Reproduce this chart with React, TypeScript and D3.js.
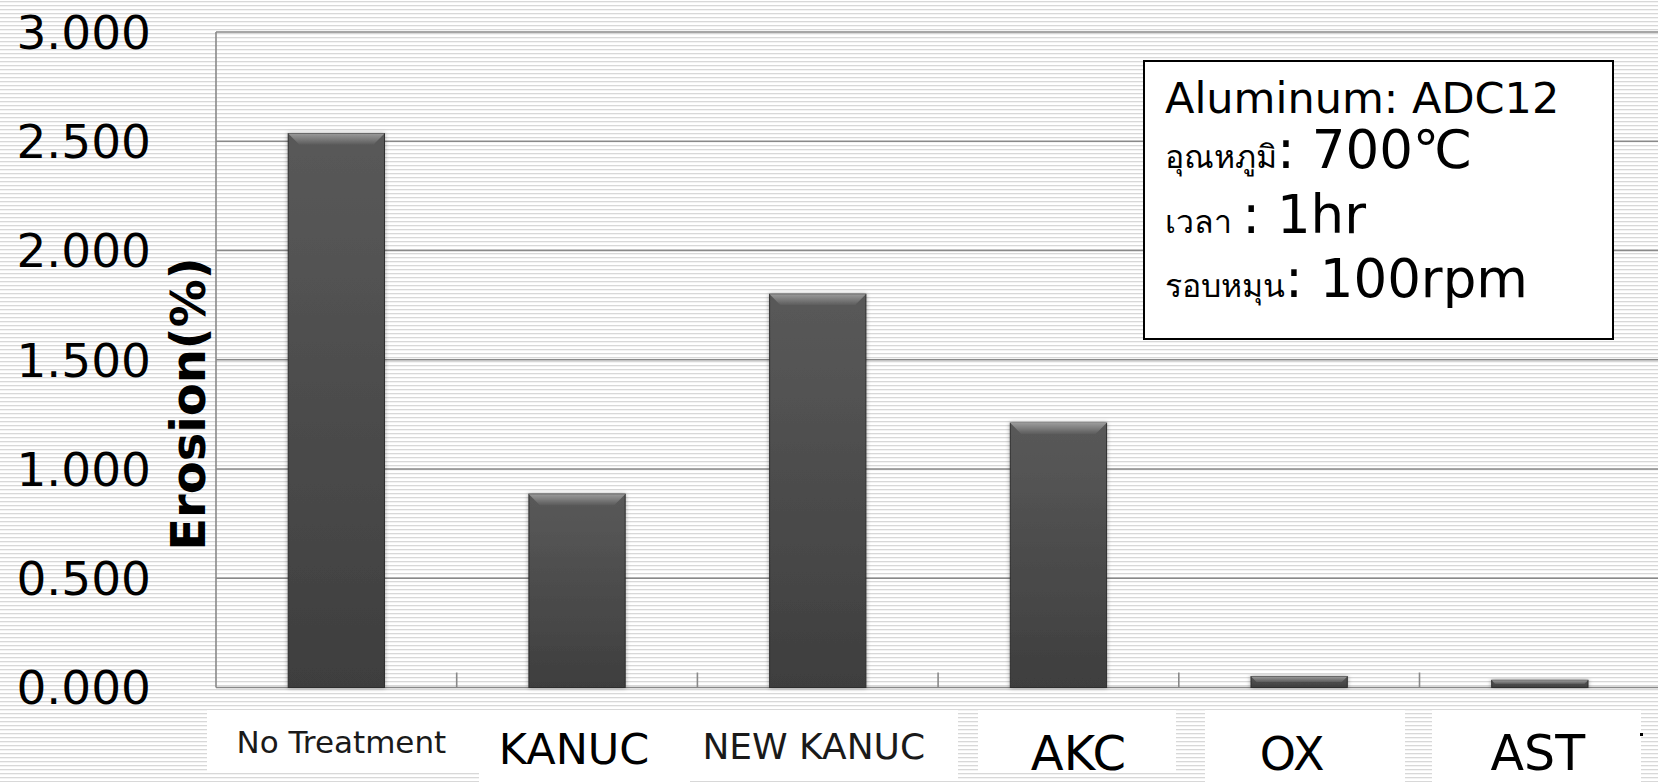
import React, { useEffect, useRef } from 'react';
import * as d3 from 'd3';

// values
const categories = ['No Treatment', 'KANUC', 'NEW KANUC', 'AKC', 'OX', 'AST'];
const erosion = [2.535, 0.885, 1.8, 1.21, 0.05, 0.033];
const yTicks = [0, 0.5, 1, 1.5, 2, 2.5, 3];
const tickLabels = ['0.000', '0.500', '1.000', '1.500', '2.000', '2.500', '3.000'];

const noteTitle = 'Aluminum: ADC12';
const noteThai = ['อุณหภูมิ', 'เวลา ', 'รอบหมุน'];
const noteValues = [': 700℃', ': 1hr', ': 100rpm'];

// label text boxes were placed by hand in the original slide
const labelStyle = [
  { size: 31, dx: 5, y: 753 },
  { size: 43, dx: -3, y: 764 },
  { size: 36, dx: -4, y: 759 },
  { size: 48, dx: 20, y: 770 },
  { size: 46, dx: -7, y: 770 },
  { size: 49, dx: -2, y: 770 },
];
const labelBoxes = [
  [207, 479, 772],
  [479, 690, 782],
  [690, 958, 780],
  [978, 1176, 773],
  [1205, 1405, 782],
  [1432, 1641, 782],
];

const W = 1658;
const H = 782;
const FONT = '"DejaVu Sans", Verdana, sans-serif';

const App: React.FC = () => {
  const ref = useRef<SVGSVGElement | null>(null);

  useEffect(() => {
    if (!ref.current) return;
    const svg = d3.select(ref.current);
    svg.selectAll('*').remove();
    svg.attr('width', W).attr('height', H);

    const margin = { top: 32, left: 216, bottom: 94.5 };
    const step = 240.7;
    const x = d3.scaleBand<string>()
      .domain(categories)
      .range([margin.left, margin.left + step * categories.length])
      .paddingInner(0.6)
      .paddingOuter(0.3);
    const y = d3.scaleLinear().domain([0, 3]).range([H - margin.bottom, margin.top]);

    const defs = svg.append('defs');
    const pat = defs.append('pattern')
      .attr('id', 'stripes')
      .attr('patternUnits', 'userSpaceOnUse')
      .attr('width', 8)
      .attr('height', 4);
    pat.append('rect').attr('width', 8).attr('height', 4).attr('fill', '#fff');
    pat.append('rect').attr('y', 1).attr('width', 8).attr('height', 1.3).attr('fill', '#d8d8d8');

    const body = defs.append('linearGradient').attr('id', 'barBody').attr('x1', 0).attr('x2', 0).attr('y1', 0).attr('y2', 1);
    body.append('stop').attr('offset', '0%').attr('stop-color', '#595959');
    body.append('stop').attr('offset', '100%').attr('stop-color', '#3e3e3e');

    const bevel = defs.append('linearGradient').attr('id', 'barBevel').attr('x1', 0).attr('x2', 0).attr('y1', 0).attr('y2', 1);
    bevel.append('stop').attr('offset', '0%').attr('stop-color', '#9a9a9a');
    bevel.append('stop').attr('offset', '100%').attr('stop-color', '#5c5c5c');

    const shadow = defs.append('filter').attr('id', 'barShadow')
      .attr('x', '-20%').attr('y', '-20%').attr('width', '140%').attr('height', '140%');
    shadow.append('feDropShadow')
      .attr('dx', 0).attr('dy', 0).attr('stdDeviation', 2)
      .attr('flood-color', '#000').attr('flood-opacity', 0.35);

    svg.append('rect').attr('width', W).attr('height', H).attr('fill', 'url(#stripes)');

    // gridlines
    svg.append('g')
      .selectAll('line')
      .data(yTicks)
      .join('line')
      .attr('x1', margin.left)
      .attr('x2', W)
      .attr('y1', d => y(d))
      .attr('y2', d => y(d))
      .attr('stroke', '#898989')
      .attr('stroke-width', 1.6);

    svg.append('line')
      .attr('x1', margin.left).attr('x2', margin.left)
      .attr('y1', y(3)).attr('y2', y(0))
      .attr('stroke', '#898989').attr('stroke-width', 1.6);

    // category separators
    svg.append('g')
      .selectAll('line')
      .data(categories.slice(1))
      .join('line')
      .attr('x1', d => (x(d) as number) - x.step() * 0.3)
      .attr('x2', d => (x(d) as number) - x.step() * 0.3)
      .attr('y1', y(0) - 15)
      .attr('y2', y(0))
      .attr('stroke', '#898989')
      .attr('stroke-width', 1.6);

    // bars
    const bars = svg.append('g')
      .selectAll('g')
      .data(categories)
      .join('g')
      .attr('filter', 'url(#barShadow)');
    bars.append('rect')
      .attr('x', d => x(d) as number)
      .attr('width', x.bandwidth())
      .attr('y', (d, i) => y(erosion[i]))
      .attr('height', (d, i) => y(0) - y(erosion[i]))
      .attr('fill', 'url(#barBody)')
      .attr('stroke', '#2e2e2e')
      .attr('stroke-width', 1);
    bars.append('path')
      .attr('d', (d, i) => {
        const x0 = x(d) as number;
        const x1 = x0 + x.bandwidth();
        const top = y(erosion[i]);
        const b = Math.min(11, (y(0) - top) * 0.5);
        return `M${x0},${top}L${x1},${top}L${x1 - b},${top + b}L${x0 + b},${top + b}Z`;
      })
      .attr('fill', 'url(#barBevel)')
      .attr('stroke', 'none');

    // y tick labels
    svg.append('g')
      .selectAll('text')
      .data(yTicks)
      .join('text')
      .attr('x', 151)
      .attr('y', d => y(d))
      .attr('dy', '0.36em')
      .attr('text-anchor', 'end')
      .attr('font-family', FONT)
      .attr('font-size', 47)
      .attr('fill', '#000')
      .text((d, i) => tickLabels[i]);

    // y title
    svg.append('text')
      .attr('transform', 'translate(205,404)rotate(-90)')
      .attr('text-anchor', 'middle')
      .attr('font-family', FONT)
      .attr('font-weight', 'bold')
      .attr('font-size', 48)
      .attr('fill', '#000')
      .text('Erosion(%)');

    // category labels in white boxes
    svg.append('g')
      .selectAll('rect')
      .data(labelBoxes)
      .join('rect')
      .attr('x', d => d[0])
      .attr('width', d => d[1] - d[0])
      .attr('y', 710)
      .attr('height', d => d[2] - 710)
      .attr('fill', '#fff');

    svg.append('g')
      .selectAll('text')
      .data(categories)
      .join('text')
      .attr('x', (d, i) => (x(d) as number) + x.bandwidth() / 2 + labelStyle[i].dx)
      .attr('y', (d, i) => labelStyle[i].y)
      .attr('text-anchor', 'middle')
      .attr('font-family', FONT)
      .attr('font-size', (d, i) => labelStyle[i].size)
      .attr('fill', (d, i) => (i === 0 || i === 2 ? '#1a1a1a' : '#000'))
      .text(d => d);

    svg.append('rect')
      .attr('x', 1640).attr('y', 733).attr('width', 3).attr('height', 3).attr('fill', '#000');

    // condition note
    const note = svg.append('g');
    note.append('rect')
      .attr('x', 1144).attr('y', 61)
      .attr('width', 469).attr('height', 278)
      .attr('fill', '#fff')
      .attr('stroke', '#000')
      .attr('stroke-width', 2);
    note.append('text')
      .attr('x', 1165).attr('y', 113)
      .attr('font-family', FONT)
      .attr('font-size', 43)
      .text(noteTitle);
    const baselines = [168, 233, 297];
    noteThai.forEach((t, i) => {
      const line = note.append('text')
        .attr('x', 1165)
        .attr('y', baselines[i])
        .attr('font-family', FONT);
      line.append('tspan').attr('font-size', 32).text(t);
      line.append('tspan').attr('font-size', 53).text(noteValues[i]);
    });
  }, []);

  return <svg ref={ref} style={{ position: 'absolute', left: 0, top: 0 }} />;
};

export default App;
